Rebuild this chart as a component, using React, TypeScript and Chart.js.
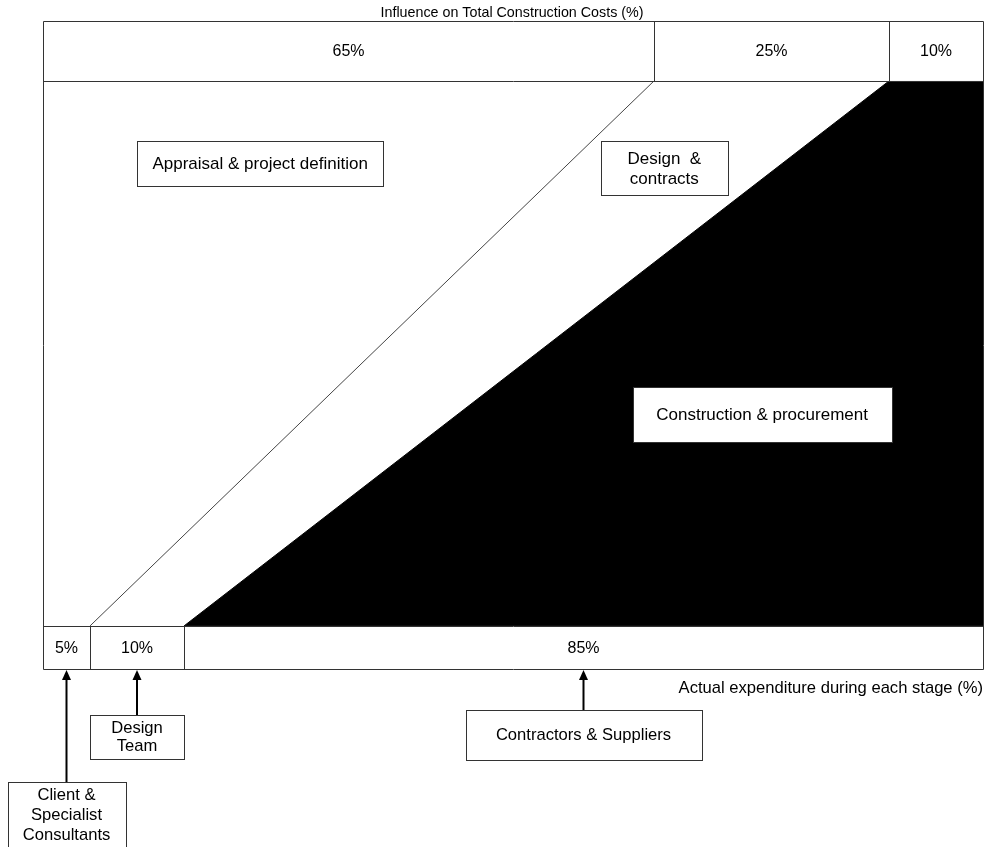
import React, { useEffect, useRef } from "react";
import { Chart, registerables } from "chart.js";

Chart.register(...registerables);

// ---- Data ----
const chartTitle = "Influence on Total Construction Costs (%)";
const xAxisTitle = "Actual expenditure during each stage (%)";
const influenceShares = [65, 25, 10]; // top band
const expenditureShares = [5, 10, 85]; // bottom band
const designBoundaryX = [5, 65];
const designBoundaryY = [0, 100];
const constructionEdgeX = [15, 90, 100];
const constructionEdgeY = [0, 100, 100];
const stageLabels = [
  ["Appraisal & project definition"],
  ["Design  &", "contracts"],
  ["Construction & procurement"],
];
const partyLabels = [
  ["Client &", "Specialist", "Consultants"],
  ["Design", "Team"],
  ["Contractors & Suppliers"],
];

// ---- Layout (positions/sizes, separate from data) ----
const Y_MIN = -7.9;
const Y_MAX = 111;
// stage boxes: center in data units, size px
const stageBoxes = [
  { cx: 23.1, cy: 84.9, w: 246, h: 45 },
  { cx: 66.1, cy: 84.0, w: 127, h: 54 },
  { cx: 76.5, cy: 38.8, w: 259, h: 55 },
];
// party boxes: px top, height, width; arrow to center of each expenditure segment
const partyBoxes = [
  { top: 782, h: 80, w: 118, lh: 20, firstY: 795 },
  { top: 715, h: 44, w: 94, lh: 18, firstY: 728 },
  { top: 710, h: 50, w: 236, lh: 18, firstY: 735 },
];

const FONT = '"Liberation Sans", Arial, sans-serif';
const LINE = "#333";

const overlay = {
  id: "diagramOverlay",
  afterDatasetsDraw(chart: any) {
    const ctx = chart.ctx as CanvasRenderingContext2D;
    const xs = chart.scales.x;
    const ys = chart.scales.y;
    const px = (v: number) => xs.getPixelForValue(v);
    const py = (v: number) => ys.getPixelForValue(v);
    const L = px(0), R = px(100);
    const yTop = py(Y_MAX), yTopBand = py(100), yBotBand = py(0), yBot = py(Y_MIN);
    ctx.save();
    ctx.strokeStyle = LINE;
    ctx.lineWidth = 1;
    const line = (x1: number, y1: number, x2: number, y2: number) => {
      ctx.beginPath();
      ctx.moveTo(Math.round(x1) + 0.5, Math.round(y1) + 0.5);
      ctx.lineTo(Math.round(x2) + 0.5, Math.round(y2) + 0.5);
      ctx.stroke();
    };
    // bands: white background
    ctx.fillStyle = "#fff";
    ctx.fillRect(L, yTop, R - L, yTopBand - yTop);
    ctx.fillRect(L, yBotBand, R - L, yBot - yBotBand);
    // frame
    line(L, yTop, R, yTop);
    line(L, yTopBand, R, yTopBand);
    line(L, yBotBand, R, yBotBand);
    line(L, yBot, R, yBot);
    line(L, yTop, L, yBot);
    line(R, yTop, R, yBot);

    ctx.fillStyle = "#000";
    ctx.textAlign = "center";
    ctx.textBaseline = "middle";
    ctx.font = `16px ${FONT}`;
    // top band segments
    let acc = 0;
    influenceShares.forEach((s, i) => {
      const a = px(acc), b = px(acc + s);
      if (i > 0) line(a, yTop, a, yTopBand);
      ctx.fillText(`${s}%`, (a + b) / 2, (yTop + yTopBand) / 2 + 1);
      acc += s;
    });
    // bottom band segments
    acc = 0;
    const centers: number[] = [];
    expenditureShares.forEach((s, i) => {
      const a = px(acc), b = px(acc + s);
      if (i > 0) line(a, yBotBand, a, yBot);
      ctx.fillText(`${s}%`, (a + b) / 2, (yBotBand + yBot) / 2 + 1);
      centers.push((a + b) / 2);
      acc += s;
    });

    // titles
    ctx.font = `14.3px ${FONT}`;
    ctx.fillText(chartTitle, 512, 13);
    ctx.font = `16.6px ${FONT}`;
    ctx.textAlign = "right";
    ctx.fillText(xAxisTitle, R, 688);
    ctx.textAlign = "center";

    // stage boxes
    ctx.font = `17px ${FONT}`;
    stageLabels.forEach((lines, i) => {
      const b = stageBoxes[i];
      const cx = px(b.cx), cy = py(b.cy);
      const x0 = Math.round(cx - b.w / 2), y0 = Math.round(cy - b.h / 2);
      ctx.fillStyle = "#fff";
      ctx.fillRect(x0, y0, b.w, b.h);
      ctx.strokeRect(x0 + 0.5, y0 + 0.5, b.w, b.h);
      ctx.fillStyle = "#000";
      const lh = 20;
      lines.forEach((t, j) => {
        ctx.fillText(t, cx, cy + 1 + (j - (lines.length - 1) / 2) * lh);
      });
    });

    // party boxes + arrows
    ctx.font = `16.6px ${FONT}`;
    partyLabels.forEach((lines, i) => {
      const b = partyBoxes[i];
      const cx = centers[i];
      const x0 = Math.round(cx - b.w / 2);
      ctx.fillStyle = "#fff";
      ctx.fillRect(x0, b.top, b.w, b.h);
      ctx.strokeRect(x0 + 0.5, b.top + 0.5, b.w, b.h);
      ctx.fillStyle = "#000";
      lines.forEach((t, j) => {
        ctx.fillText(t, cx, b.firstY + j * b.lh);
      });
      // arrow
      ctx.strokeStyle = "#000";
      ctx.lineWidth = 2;
      ctx.beginPath();
      ctx.moveTo(cx, b.top);
      ctx.lineTo(cx, yBot + 8);
      ctx.stroke();
      ctx.beginPath();
      ctx.moveTo(cx, yBot + 1);
      ctx.lineTo(cx - 4.5, yBot + 11);
      ctx.lineTo(cx + 4.5, yBot + 11);
      ctx.closePath();
      ctx.fill();
      ctx.strokeStyle = LINE;
      ctx.lineWidth = 1;
    });
    ctx.restore();
  },
};

export default function App() {
  const ref = useRef<HTMLCanvasElement | null>(null);
  useEffect(() => {
    if (!ref.current) return;
    const chart = new Chart(ref.current, {
      type: "scatter",
      data: {
        datasets: [
          {
            label: "Construction & procurement",
            data: constructionEdgeX.map((x, i) => ({ x, y: constructionEdgeY[i] })),
            showLine: true,
            fill: "origin",
            backgroundColor: "#000",
            borderColor: "#000",
            borderWidth: 1,
            pointRadius: 0,
          },
          {
            label: "Design boundary",
            data: designBoundaryX.map((x, i) => ({ x, y: designBoundaryY[i] })),
            showLine: true,
            fill: false,
            borderColor: "#444",
            borderWidth: 1,
            pointRadius: 0,
          },
        ],
      },
      options: {
        responsive: false,
        animation: false,
        layout: { padding: { left: 43, right: 15, top: 21, bottom: 178 } },
        plugins: { legend: { display: false }, tooltip: { enabled: false }, title: { display: false } },
        scales: {
          x: { type: "linear", min: 0, max: 100, display: false },
          y: { type: "linear", min: Y_MIN, max: Y_MAX, display: false },
        },
      },
      plugins: [overlay],
    });
    return () => chart.destroy();
  }, []);
  return (
    <div style={{ position: "absolute", left: 0, top: 0, width: 998, height: 847, background: "#fff" }}>
      <canvas ref={ref} width={998} height={847} />
    </div>
  );
}
